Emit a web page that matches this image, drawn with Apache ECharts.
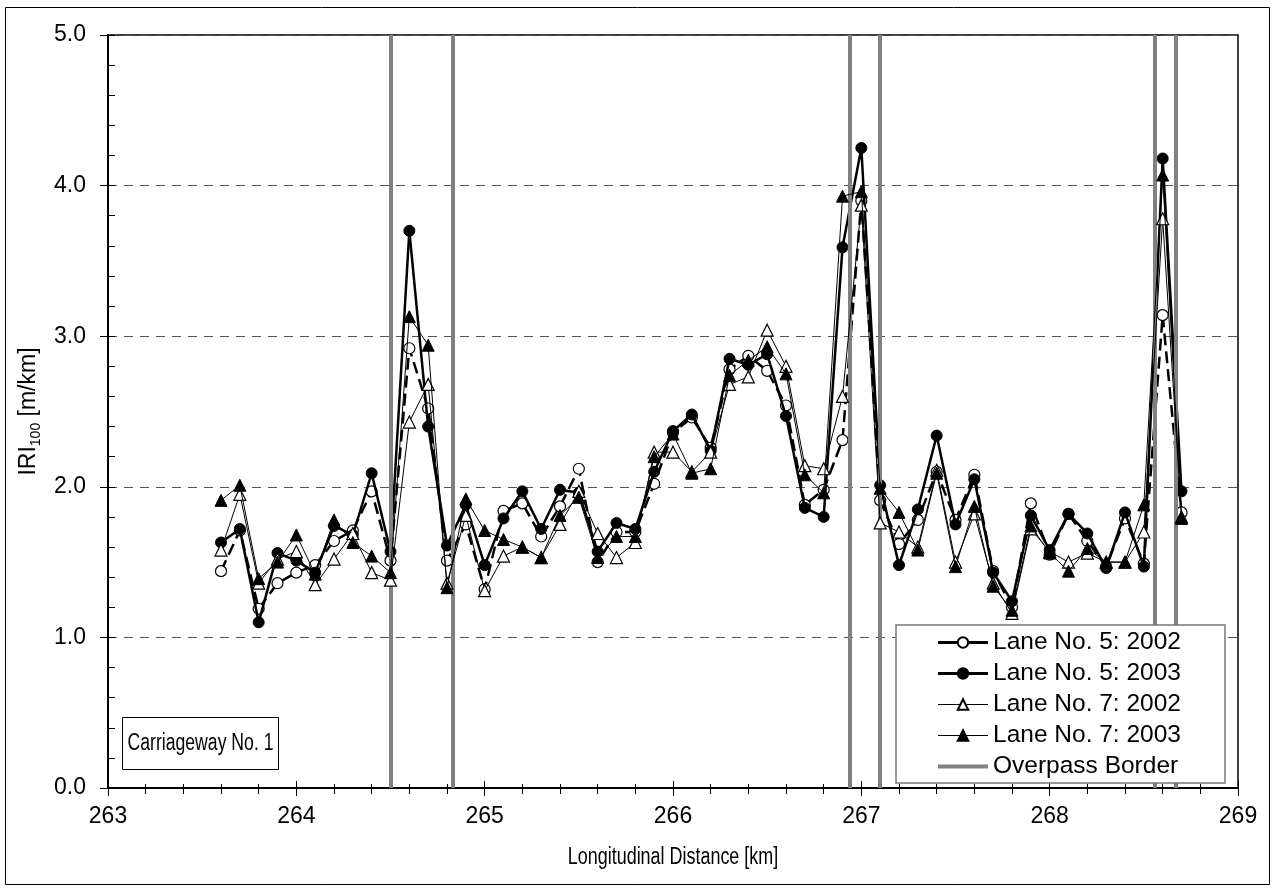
<!DOCTYPE html>
<html>
<head>
<meta charset="utf-8">
<title>IRI100 – Carriageway No. 1</title>
<script src="https://cdn.jsdelivr.net/npm/echarts@6/dist/echarts.min.js"></script>
<style>
  html, body { margin: 0; padding: 0; background: #fff; }
  #chart { width: 1276px; height: 892px; }
</style>
</head>
<body>
<div id="chart"></div>
<script>
// Chainage of each 100 m section [km]
const km = [
  263.6, 263.7, 263.8, 263.9, 264.0, 264.1, 264.2, 264.3, 264.4, 264.5,
  264.6, 264.7, 264.8, 264.9, 265.0, 265.1, 265.2, 265.3, 265.4, 265.5,
  265.6, 265.7, 265.8, 265.9, 266.0, 266.1, 266.2, 266.3, 266.4, 266.5,
  266.6, 266.7, 266.8, 266.9, 267.0, 267.1, 267.2, 267.3, 267.4, 267.5,
  267.6, 267.7, 267.8, 267.9, 268.0, 268.1, 268.2, 268.3, 268.4, 268.5,
  268.6, 268.7
];

// IRI100 [m/km] per section
const lane5y2002 = [
  1.44, 1.71, 1.19, 1.36, 1.43, 1.48, 1.64, 1.71, 1.97, 1.51,
  2.92, 2.52, 1.51, 1.75, 1.32, 1.84, 1.89, 1.67, 1.87, 2.12,
  1.50, 1.70, 1.70, 2.02, 2.36, 2.46, 2.26, 2.78, 2.87, 2.77,
  2.54, 1.88, 1.98, 2.31, 3.90, 1.91, 1.62, 1.78, 2.10, 1.78,
  2.08, 1.44, 1.20, 1.89, 1.55, 1.82, 1.64, 1.47, 1.79, 1.49,
  3.14, 1.83
];
const lane5y2003 = [
  1.63, 1.72, 1.10, 1.56, 1.51, 1.43, 1.74, 1.68, 2.09, 1.57,
  3.70, 2.40, 1.61, 1.88, 1.48, 1.79, 1.97, 1.72, 1.98, 1.96,
  1.57, 1.76, 1.72, 2.10, 2.37, 2.48, 2.24, 2.85, 2.81, 2.88,
  2.47, 1.86, 1.80, 3.59, 4.25, 2.01, 1.48, 1.85, 2.34, 1.75,
  2.05, 1.43, 1.24, 1.81, 1.58, 1.82, 1.69, 1.46, 1.83, 1.47,
  4.18, 1.97
];
const lane7y2002 = [
  1.58, 1.95, 1.36, 1.52, 1.57, 1.35, 1.52, 1.69, 1.43, 1.38,
  2.43, 2.68, 1.36, 1.81, 1.31, 1.54, 1.60, 1.53, 1.75, 1.97,
  1.69, 1.53, 1.63, 2.23, 2.23, 2.10, 2.23, 2.68, 2.73, 3.04,
  2.80, 2.14, 2.12, 2.60, 3.87, 1.76, 1.70, 1.60, 2.11, 1.50,
  1.82, 1.36, 1.16, 1.72, 1.57, 1.50, 1.56, 1.50, 1.50, 1.70,
  3.78, 1.80
];
const lane7y2003 = [
  1.91, 2.01, 1.39, 1.50, 1.68, 1.42, 1.78, 1.63, 1.54, 1.43,
  3.13, 2.94, 1.33, 1.92, 1.71, 1.65, 1.60, 1.53, 1.81, 1.93,
  1.53, 1.67, 1.67, 2.20, 2.35, 2.09, 2.12, 2.74, 2.84, 2.93,
  2.75, 2.08, 1.96, 3.93, 3.96, 1.99, 1.83, 1.58, 2.09, 1.47,
  1.87, 1.34, 1.18, 1.74, 1.56, 1.44, 1.59, 1.50, 1.50, 1.88,
  4.07, 1.79
];

// Overpass start/end chainages [km]
const overpassBorders = [264.50, 264.83, 266.94, 267.10, 268.56, 268.67];

const seriesNames = [
  'Lane No. 5: 2002',
  'Lane No. 5: 2003',
  'Lane No. 7: 2002',
  'Lane No. 7: 2003',
  'Overpass Border'
];

const xTitle = 'Longitudinal Distance [km]';
const sectionLabel = 'Carriageway No. 1';

const FONT = 'Liberation Sans, Arial, Helvetica, sans-serif';
const pairs = vals => km.map((k, i) => [k, vals[i]]);

const chart = echarts.init(document.getElementById('chart'), null, { renderer: 'canvas' });

const xCommon = { type: 'value', min: 263, max: 269, interval: 1, gridIndex: 0 };
const yCommon = { type: 'value', min: 0, max: 5, interval: 1, gridIndex: 0 };

chart.setOption({
  animation: false,
  backgroundColor: '#fff',
  textStyle: { fontFamily: FONT, color: '#000' },
  grid: {
    left: 108, top: 35, width: 1130, height: 753,
    show: true, borderColor: '#000', borderWidth: 1.5, backgroundColor: 'transparent'
  },
  xAxis: [
    Object.assign({}, xCommon, {
      position: 'bottom',
      axisLine: { show: true, onZero: false, lineStyle: { color: '#000', width: 2 } },
      axisTick: { show: true, inside: false, length: 8, lineStyle: { color: '#000', width: 1 } },
      minorTick: { show: true, splitNumber: 5, length: 6, lineStyle: { color: '#000', width: 1 } },
      axisLabel: { fontSize: 23, color: '#000', margin: 17, fontFamily: FONT },
      splitLine: { show: false }
    }),
    Object.assign({}, xCommon, {
      position: 'bottom',
      axisLine: { show: false, onZero: false },
      axisTick: { show: true, inside: true, length: 7, lineStyle: { color: '#000', width: 1 } },
      minorTick: { show: true, splitNumber: 5, length: 4, lineStyle: { color: '#000', width: 1 } },
      axisLabel: { show: false },
      splitLine: { show: false }
    })
  ],
  yAxis: [
    Object.assign({}, yCommon, {
      position: 'left',
      name: '{a|IRI}{b|100}{a| [m/km]}',
      nameLocation: 'middle',
      nameGap: 58,
      nameTextStyle: {
        color: '#000',
        rich: {
          a: { fontSize: 23, fontFamily: FONT, color: '#000' },
          b: { fontSize: 14, fontFamily: FONT, color: '#000', verticalAlign: 'bottom', padding: [0, 0, -3, 0] }
        }
      },
      axisLine: { show: true, onZero: false, lineStyle: { color: '#000', width: 2 } },
      axisTick: { show: true, inside: false, length: 8, lineStyle: { color: '#000', width: 1 } },
      axisLabel: {
        fontSize: 23, color: '#000', margin: 22, fontFamily: FONT,
        formatter: v => v.toFixed(1)
      },
      splitLine: { show: true, lineStyle: { color: '#555', width: 1, type: [9, 7] } }
    }),
    Object.assign({}, yCommon, {
      position: 'left',
      axisLine: { show: false, onZero: false },
      axisTick: { show: true, inside: true, length: 7, lineStyle: { color: '#000', width: 1 } },
      minorTick: { show: true, splitNumber: 5, length: 7, lineStyle: { color: '#000', width: 1 } },
      axisLabel: { show: false },
      splitLine: { show: false }
    })
  ],
  legend: {
    orient: 'vertical',
    left: 896,
    top: 625,
    data: [
      { name: seriesNames[0], lineStyle: { type: 'solid', width: 3, color: '#000' } },
      { name: seriesNames[1], lineStyle: { type: 'solid', width: 3, color: '#000' } },
      { name: seriesNames[2], lineStyle: { type: 'solid', width: 1, color: '#000' } },
      { name: seriesNames[3], lineStyle: { type: 'solid', width: 1, color: '#000' } },
      { name: seriesNames[4], lineStyle: { type: 'solid', width: 4, color: '#808080' },
        itemStyle: { color: 'rgba(0,0,0,0)', borderWidth: 0 } }
    ],
    backgroundColor: '#fff',
    borderColor: '#777',
    borderWidth: 1.5,
    borderRadius: 0,
    padding: [5, 44, 4, 40],
    itemWidth: 50,
    itemHeight: 13,
    itemGap: 6,
    z: 20,
    selectedMode: false,
    textStyle: { fontSize: 24.5, lineHeight: 24, color: '#000', fontFamily: FONT }
  },
  series: [
    {
      name: 'Overpass Border',
      type: 'line',
      data: [],
      symbol: 'none',
      z: 1,
      lineStyle: { color: '#808080', width: 4 },
      itemStyle: { color: '#808080' },
      markLine: {
        silent: true,
        symbol: 'none',
        label: { show: false },
        animation: false,
        lineStyle: { color: '#808080', width: 4, type: 'solid' },
        data: overpassBorders.map(v => ({ xAxis: v }))
      }
    },
    {
      name: 'Lane No. 5: 2002',
      type: 'line',
      data: pairs(lane5y2002),
      z: 3,
      symbol: 'circle',
      symbolSize: 11,
      lineStyle: { color: '#000', width: 2.5, type: [12, 6] },
      itemStyle: { color: '#fff', borderColor: '#000', borderWidth: 1.2 }
    },
    {
      name: 'Lane No. 5: 2003',
      type: 'line',
      data: pairs(lane5y2003),
      z: 4,
      symbol: 'circle',
      symbolSize: 11,
      lineStyle: { color: '#000', width: 2.5 },
      itemStyle: { color: '#000', borderColor: '#000', borderWidth: 1 }
    },
    {
      name: 'Lane No. 7: 2002',
      type: 'line',
      data: pairs(lane7y2002),
      z: 5,
      symbol: 'triangle',
      symbolSize: 12,
      lineStyle: { color: '#000', width: 1 },
      itemStyle: { color: '#fff', borderColor: '#000', borderWidth: 1.2 }
    },
    {
      name: 'Lane No. 7: 2003',
      type: 'line',
      data: pairs(lane7y2003),
      z: 6,
      symbol: 'triangle',
      symbolSize: 12,
      lineStyle: { color: '#000', width: 1 },
      itemStyle: { color: '#000', borderColor: '#000', borderWidth: 1 }
    }
  ],
  graphic: [
    // outer chart frame
    {
      type: 'rect',
      silent: true,
      shape: { x: 5.5, y: 7.5, width: 1264, height: 877 },
      style: { fill: 'none', stroke: '#000', lineWidth: 1 },
      z: 0
    },
    // x-axis title, condensed face
    {
      type: 'text',
      silent: true,
      x: 673,
      y: 858,
      scaleX: 0.78,
      z: 30,
      style: {
        text: xTitle,
        fontSize: 23,
        fontFamily: FONT,
        fill: '#000',
        align: 'center',
        verticalAlign: 'middle'
      }
    },
    // carriageway tag
    {
      type: 'rect',
      silent: true,
      shape: { x: 122.5, y: 717.5, width: 156, height: 52 },
      style: { fill: '#fff', stroke: '#000', lineWidth: 1 },
      z: 30
    },
    {
      type: 'text',
      silent: true,
      x: 200.5,
      y: 744,
      scaleX: 0.75,
      z: 31,
      style: {
        text: sectionLabel,
        fontSize: 23.5,
        fontFamily: FONT,
        fill: '#000',
        align: 'center',
        verticalAlign: 'middle'
      }
    }
  ]
});
</script>
</body>
</html>
